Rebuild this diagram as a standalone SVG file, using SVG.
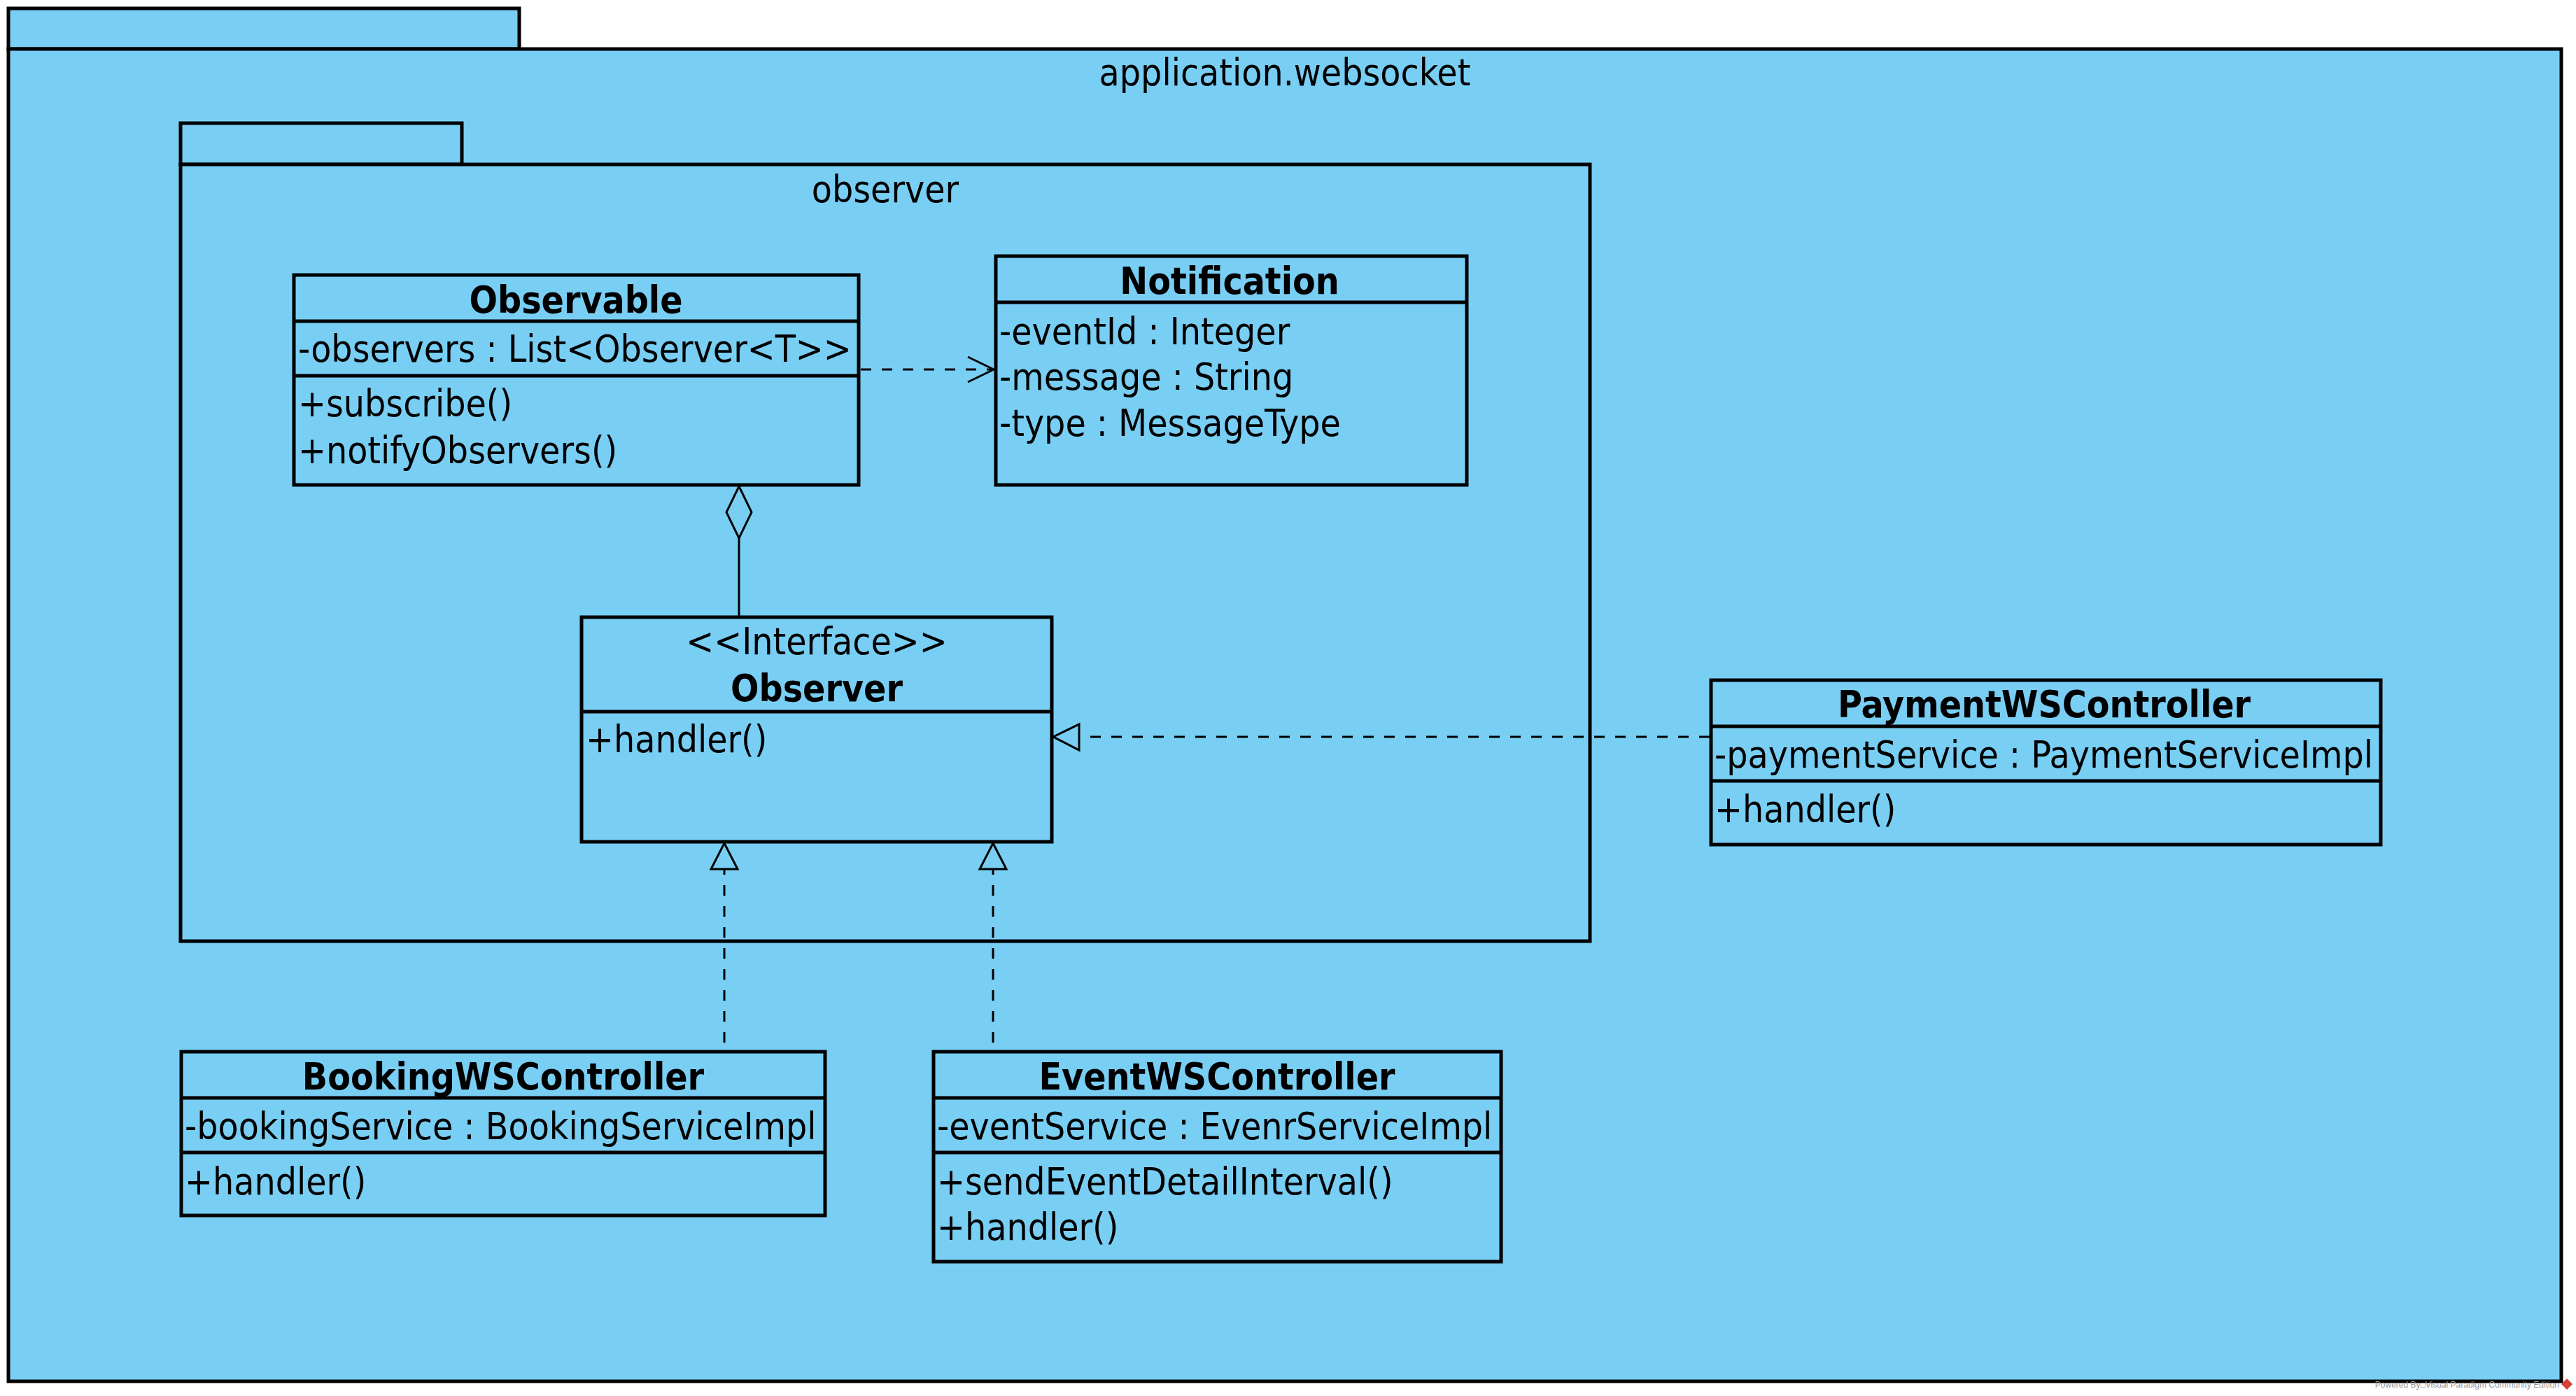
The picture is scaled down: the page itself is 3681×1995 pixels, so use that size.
<svg xmlns="http://www.w3.org/2000/svg" width="3681" height="1995" viewBox="0 0 3681 1995">
<style>
.box{fill:#79CEF4;stroke:#000;stroke-width:5;stroke-linejoin:miter}
.sep{stroke:#000;stroke-width:5}
text{font-family:"DejaVu Sans Condensed","DejaVu Sans",sans-serif;font-stretch:condensed;font-size:53px;fill:#000}
.t{font-weight:bold;text-anchor:middle}
.c{text-anchor:middle}
.ln{fill:none;stroke:#000;stroke-width:3}
.dash{fill:none;stroke:#000;stroke-width:3;stroke-dasharray:15 15}
.head{fill:#79CEF4;stroke:#000;stroke-width:3}
.open{fill:none;stroke:#000;stroke-width:3}
.foot{font-family:"Liberation Sans",Arial,sans-serif;font-size:12px;fill:#999;font-stretch:normal;text-anchor:end}
</style>
<rect width="3681" height="1995" fill="#fff"/>
<g id="pkg-application-websocket">
<rect class="box" x="12" y="12" width="730" height="58"/>
<rect class="box" x="12" y="70" width="3648" height="1904"/>
<text class="c" x="1836" y="122">application.websocket</text>
</g>
<g id="pkg-observer">
<rect class="box" x="258" y="176" width="402" height="59"/>
<rect class="box" x="258" y="235" width="2014" height="1110"/>
<text class="c" x="1265" y="289">observer</text>
</g>
<g id="Observable">
<rect class="box" x="420" y="393" width="807" height="300"/>
<line class="sep" x1="420" y1="459" x2="1227" y2="459"/>
<line class="sep" x1="420" y1="537" x2="1227" y2="537"/>
<text class="t" x="823" y="447">Observable</text>
<text x="426" y="517">-observers : List&lt;Observer&lt;T&gt;&gt;</text>
<text x="426" y="595">+subscribe()</text>
<text x="426" y="662">+notifyObservers()</text>
</g>
<g id="Notification">
<rect class="box" x="1423" y="366" width="673" height="327"/>
<line class="sep" x1="1423" y1="432" x2="2096" y2="432"/>
<text class="t" x="1757" y="420">Notification</text>
<text x="1428" y="492">-eventId : Integer</text>
<text x="1428" y="557">-message : String</text>
<text x="1428" y="623">-type : MessageType</text>
</g>
<g id="Observer">
<rect class="box" x="831" y="882" width="672" height="321"/>
<line class="sep" x1="831" y1="1017" x2="1503" y2="1017"/>
<text class="c" x="1167" y="935">&lt;&lt;Interface&gt;&gt;</text>
<text class="t" x="1167" y="1002">Observer</text>
<text x="837" y="1075">+handler()</text>
</g>
<g id="PaymentWSController">
<rect class="box" x="2445" y="972" width="957" height="235"/>
<line class="sep" x1="2445" y1="1038" x2="3402" y2="1038"/>
<line class="sep" x1="2445" y1="1116" x2="3402" y2="1116"/>
<text class="t" x="2921" y="1025">PaymentWSController</text>
<text x="2450" y="1097">-paymentService : PaymentServiceImpl</text>
<text x="2450" y="1175">+handler()</text>
</g>
<g id="BookingWSController">
<rect class="box" x="259" y="1503" width="920" height="234"/>
<line class="sep" x1="259" y1="1569" x2="1179" y2="1569"/>
<line class="sep" x1="259" y1="1647" x2="1179" y2="1647"/>
<text class="t" x="719" y="1557">BookingWSController</text>
<text x="264" y="1628">-bookingService : BookingServiceImpl</text>
<text x="264" y="1707">+handler()</text>
</g>
<g id="EventWSController">
<rect class="box" x="1334" y="1503" width="811" height="300"/>
<line class="sep" x1="1334" y1="1569" x2="2145" y2="1569"/>
<line class="sep" x1="1334" y1="1647" x2="2145" y2="1647"/>
<text class="t" x="1739" y="1557">EventWSController</text>
<text x="1339" y="1628">-eventService : EvenrServiceImpl</text>
<text x="1339" y="1707">+sendEventDetailInterval()</text>
<text x="1339" y="1772">+handler()</text>
</g>
<g id="connectors">
<line class="dash" x1="1230" y1="528" x2="1418" y2="528"/>
<polyline class="open" points="1383,510 1420,528 1383,546"/>
<line class="ln" x1="1056" y1="769" x2="1056" y2="882"/>
<polygon class="head" points="1056,695 1074,732 1056,769 1038,732"/>
<line class="dash" x1="2443" y1="1053" x2="1542" y2="1053"/>
<polygon class="head" points="1505,1053 1542,1035 1542,1072"/>
<line class="dash" x1="1035" y1="1490" x2="1035" y2="1242"/>
<polygon class="head" points="1035,1205 1054,1242 1016,1242"/>
<line class="dash" x1="1419" y1="1490" x2="1419" y2="1242"/>
<polygon class="head" points="1419,1205 1438,1242 1400,1242"/>
</g>
<g id="footer">
<text class="foot" x="3657" y="1983">Powered By□Visual Paradigm Community Edition</text>
<polygon points="3668,1970 3676,1978 3668,1986 3660,1978" fill="#d9403a"/>
</g>
</svg>
